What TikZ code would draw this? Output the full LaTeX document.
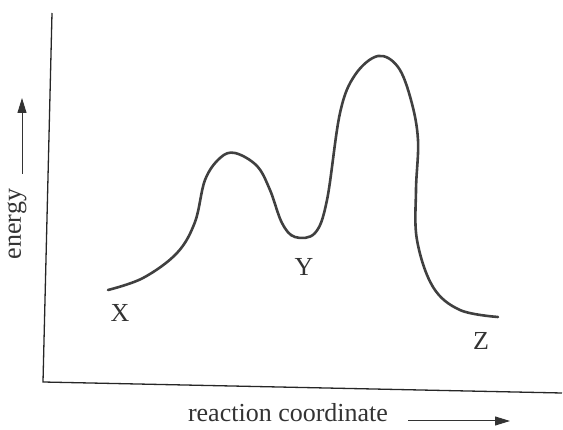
\documentclass[tikz,border=0pt]{standalone}
\usepackage{fontspec}
\setmainfont{Liberation Serif}
\usetikzlibrary{arrows.meta}
\begin{document}
\begin{tikzpicture}[x=1pt,y=-1pt,
  axis/.style={line width=1.3pt,black!85},
  curve/.style={line width=2.6pt,black!75,line cap=round,line join=round},
  lbl/.style={font=\fontsize{26}{30}\selectfont,text=black!80,inner sep=0pt},
  arr/.style={line width=1pt,black!80,-{Triangle[length=15pt,width=9pt]}}]
\useasboundingbox (0,0) rectangle (563,430);
\coordinate (top) at (52,13);
\coordinate (corner) at (43,382);
\coordinate (right) at (562,393);
\draw[axis] (top) -- (corner) -- (right);
\draw[curve] plot[smooth,tension=0.6] coordinates {
 (108,290) (143,278) (177,253) (195,222) (205,180) (220,158) (235,153)
 (257,166) (270,190) (282,223) (295,237) (315,233) (327,200) (340,113)
 (355,75) (378,56) (398,67) (411,100) (418,140) (416,190) (417,240)
 (433,287) (460,310) (498,317)};
\node[lbl] (X) at (120,313) {X};
\node[lbl] (Y) at (304,267) {Y};
\node[lbl] (Z) at (481,341) {Z};
\node[lbl,rotate=90] (en) at (17,224) {energy};
\coordinate (ea) at (22,174);
\coordinate (eb) at (22,98);
\draw[arr] (ea) -- (eb);
\node[lbl] (rc) at (288,413) {reaction coordinate};
\coordinate (ra) at (408,421);
\coordinate (rb) at (510,421);
\draw[arr] (ra) -- (rb);
\end{tikzpicture}
\end{document}
